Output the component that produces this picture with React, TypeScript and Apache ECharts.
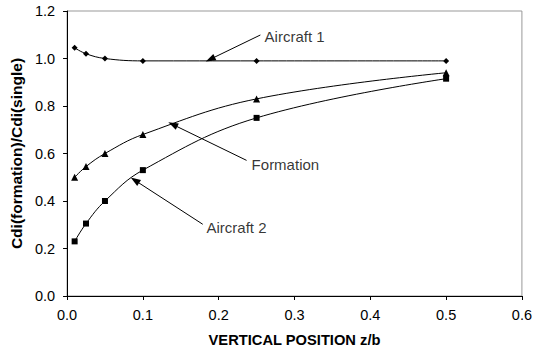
import React, { useEffect, useRef } from "react";
import * as echarts from "echarts";

const xPositions = [0.01, 0.025, 0.05, 0.1, 0.25, 0.5];
const aircraft1 = [1.045, 1.02, 1.0, 0.99, 0.99, 0.99];
const formation = [0.5, 0.545, 0.6, 0.68, 0.83, 0.94];
const aircraft2 = [0.23, 0.305, 0.4, 0.53, 0.75, 0.915];

const xTitle = "VERTICAL POSITION z/b";
const yTitle = "Cdi(formation)/Cdi(single)";

// annotation labels: [x, y, text]
const annotationLabels: [number, number, string][] = [
  [0.2566, 1.092, "Aircraft 1"],
  [0.2395, 0.552, "Formation"],
  [0.18, 0.2895, "Aircraft 2"],
];
// arrows: [startX, startY, tipX, tipY]
const arrows: [number, number, number, number][] = [
  [0.255, 1.099, 0.189, 0.997],
  [0.2368, 0.571, 0.1395, 0.722],
  [0.179, 0.302, 0.0895, 0.487],
];

const FONT = "Liberation Sans, Arial, sans-serif";

export default function App() {
  const ref = useRef<HTMLDivElement>(null);
  useEffect(() => {
    if (!ref.current) return;
    const chart = echarts.init(ref.current, null, { renderer: "svg" });
    const mk = (ys: number[]) => xPositions.map((x, i) => [x, ys[i]]);
    const lineBase = {
      type: "line" as const,
      smooth: 0.4,
      lineStyle: { color: "#000", width: 1 },
      itemStyle: { color: "#000" },
      z: 3,
    };
    chart.setOption({
      animation: false,
      backgroundColor: "#fff",
      textStyle: { fontFamily: FONT },
      grid: {
        left: 67,
        top: 11,
        right: 12,
        bottom: 55,
        show: true,
        borderColor: "#999",
        borderWidth: 1,
        backgroundColor: "transparent",
      },
      xAxis: {
        type: "value",
        min: 0,
        max: 0.6,
        interval: 0.1,
        name: xTitle,
        nameLocation: "middle",
        nameGap: 36,
        nameTextStyle: { fontSize: 14.7, fontWeight: "bold", color: "#000", fontFamily: FONT },
        axisLine: { lineStyle: { color: "#000", width: 1 } },
        axisTick: { show: true, length: 4, inside: false, lineStyle: { color: "#000" } },
        axisLabel: {
          fontSize: 14.5,
          color: "#000",
          margin: 11,
          fontFamily: FONT,
          formatter: (v: number) => v.toFixed(1),
        },
        splitLine: { show: false },
      },
      yAxis: {
        type: "value",
        min: 0,
        max: 1.2,
        interval: 0.2,
        name: yTitle,
        nameLocation: "middle",
        nameGap: 39,
        nameTextStyle: { fontSize: 15.5, fontWeight: "bold", color: "#000", fontFamily: FONT },
        axisLine: { show: true, lineStyle: { color: "#000", width: 1 } },
        axisTick: { show: true, length: 4, inside: false, lineStyle: { color: "#000" } },
        axisLabel: {
          fontSize: 14.5,
          color: "#000",
          margin: 12,
          fontFamily: FONT,
          formatter: (v: number) => v.toFixed(1),
        },
        splitLine: { show: false },
      },
      series: [
        {
          ...lineBase,
          name: "Aircraft 1",
          data: mk(aircraft1),
          symbol: "diamond",
          symbolSize: 6,
          markLine: {
            silent: true,
            symbol: ["none", "triangle"],
            symbolSize: [7, 10],
            label: { show: false },
            lineStyle: { color: "#000", width: 1, type: "solid" },
            itemStyle: { color: "#000" },
            data: arrows.map((a) => [
              { coord: [a[0], a[1]] },
              { coord: [a[2], a[3]] },
            ]),
          },
        },
        { ...lineBase, name: "Formation", data: mk(formation), symbol: "triangle", symbolSize: 7 },
        { ...lineBase, name: "Aircraft 2", data: mk(aircraft2), symbol: "rect", symbolSize: 6 },
        {
          type: "scatter",
          name: "labels",
          data: annotationLabels.map((l) => [l[0], l[1], l[2]]),
          symbolSize: 0,
          silent: true,
          label: {
            show: true,
            position: "right",
            distance: 3,
            fontSize: 15,
            color: "#000",
            fontFamily: FONT,
            formatter: (p: any) => p.value[2],
          },
        },
      ],
    });
    return () => chart.dispose();
  }, []);
  return (
    <div
      ref={ref}
      style={{ position: "fixed", left: 0, top: 0, width: 535, height: 352, background: "#fff" }}
    />
  );
}
